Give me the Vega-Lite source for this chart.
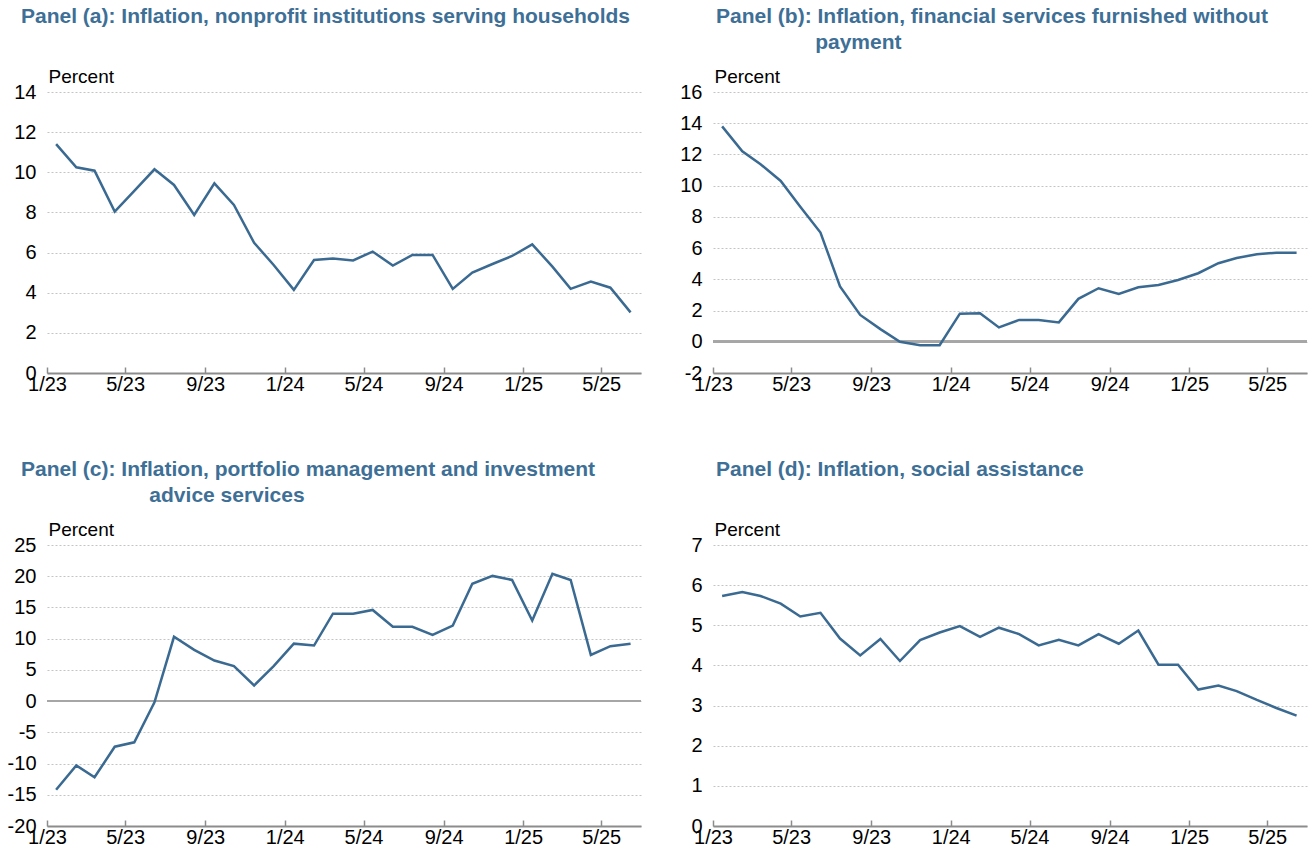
{
  "$schema": "https://vega.github.io/schema/vega-lite/v6.json",
  "background": "white",
  "padding": {"left": 7, "top": 6, "right": 0, "bottom": 0},
  "autosize": {"type": "pad"},
  "bounds": "flush",
  "columns": 2,
  "spacing": {"row": 172, "column": 72},
  "datasets": {
    "a": [
      {"date": "2023-01-15", "value": 11.4}, {"date": "2023-02-15", "value": 10.25}, {"date": "2023-03-15", "value": 10.08},
      {"date": "2023-04-15", "value": 8.04}, {"date": "2023-05-15", "value": 9.07}, {"date": "2023-06-15", "value": 10.15},
      {"date": "2023-07-15", "value": 9.37}, {"date": "2023-08-15", "value": 7.87}, {"date": "2023-09-15", "value": 9.45},
      {"date": "2023-10-15", "value": 8.37}, {"date": "2023-11-15", "value": 6.49}, {"date": "2023-12-15", "value": 5.38},
      {"date": "2024-01-15", "value": 4.14}, {"date": "2024-02-15", "value": 5.63}, {"date": "2024-03-15", "value": 5.7},
      {"date": "2024-04-15", "value": 5.61}, {"date": "2024-05-15", "value": 6.05}, {"date": "2024-06-15", "value": 5.35},
      {"date": "2024-07-15", "value": 5.88}, {"date": "2024-08-15", "value": 5.88}, {"date": "2024-09-15", "value": 4.19},
      {"date": "2024-10-15", "value": 5.0}, {"date": "2024-11-15", "value": 5.43}, {"date": "2024-12-15", "value": 5.83},
      {"date": "2025-01-15", "value": 6.41}, {"date": "2025-02-15", "value": 5.3}, {"date": "2025-03-15", "value": 4.19},
      {"date": "2025-04-15", "value": 4.55}, {"date": "2025-05-15", "value": 4.25}, {"date": "2025-06-15", "value": 3.02}
    ],
    "b": [
      {"date": "2023-01-15", "value": 13.8}, {"date": "2023-02-15", "value": 12.2}, {"date": "2023-03-15", "value": 11.37},
      {"date": "2023-04-15", "value": 10.3}, {"date": "2023-05-15", "value": 8.65}, {"date": "2023-06-15", "value": 7.0},
      {"date": "2023-07-15", "value": 3.55}, {"date": "2023-08-15", "value": 1.72}, {"date": "2023-09-15", "value": 0.81},
      {"date": "2023-10-15", "value": 0.0}, {"date": "2023-11-15", "value": -0.22}, {"date": "2023-12-15", "value": -0.22},
      {"date": "2024-01-15", "value": 1.8}, {"date": "2024-02-15", "value": 1.83}, {"date": "2024-03-15", "value": 0.92},
      {"date": "2024-04-15", "value": 1.4}, {"date": "2024-05-15", "value": 1.4}, {"date": "2024-06-15", "value": 1.24},
      {"date": "2024-07-15", "value": 2.75}, {"date": "2024-08-15", "value": 3.43}, {"date": "2024-09-15", "value": 3.07},
      {"date": "2024-10-15", "value": 3.49}, {"date": "2024-11-15", "value": 3.64}, {"date": "2024-12-15", "value": 3.96},
      {"date": "2025-01-15", "value": 4.39}, {"date": "2025-02-15", "value": 5.03}, {"date": "2025-03-15", "value": 5.37},
      {"date": "2025-04-15", "value": 5.6}, {"date": "2025-05-15", "value": 5.71}, {"date": "2025-06-15", "value": 5.71}
    ],
    "c": [
      {"date": "2023-01-15", "value": -14.2}, {"date": "2023-02-15", "value": -10.3}, {"date": "2023-03-15", "value": -12.2},
      {"date": "2023-04-15", "value": -7.3}, {"date": "2023-05-15", "value": -6.6}, {"date": "2023-06-15", "value": -0.2},
      {"date": "2023-07-15", "value": 10.3}, {"date": "2023-08-15", "value": 8.2}, {"date": "2023-09-15", "value": 6.5},
      {"date": "2023-10-15", "value": 5.6}, {"date": "2023-11-15", "value": 2.5}, {"date": "2023-12-15", "value": 5.6},
      {"date": "2024-01-15", "value": 9.2}, {"date": "2024-02-15", "value": 8.9}, {"date": "2024-03-15", "value": 14.0},
      {"date": "2024-04-15", "value": 14.0}, {"date": "2024-05-15", "value": 14.6}, {"date": "2024-06-15", "value": 11.9},
      {"date": "2024-07-15", "value": 11.9}, {"date": "2024-08-15", "value": 10.6}, {"date": "2024-09-15", "value": 12.1},
      {"date": "2024-10-15", "value": 18.8}, {"date": "2024-11-15", "value": 20.05}, {"date": "2024-12-15", "value": 19.4},
      {"date": "2025-01-15", "value": 12.9}, {"date": "2025-02-15", "value": 20.4}, {"date": "2025-03-15", "value": 19.4},
      {"date": "2025-04-15", "value": 7.4}, {"date": "2025-05-15", "value": 8.8}, {"date": "2025-06-15", "value": 9.2}
    ],
    "d": [
      {"date": "2023-01-15", "value": 5.73}, {"date": "2023-02-15", "value": 5.83}, {"date": "2023-03-15", "value": 5.73},
      {"date": "2023-04-15", "value": 5.54}, {"date": "2023-05-15", "value": 5.22}, {"date": "2023-06-15", "value": 5.31},
      {"date": "2023-07-15", "value": 4.67}, {"date": "2023-08-15", "value": 4.25}, {"date": "2023-09-15", "value": 4.66},
      {"date": "2023-10-15", "value": 4.11}, {"date": "2023-11-15", "value": 4.63}, {"date": "2023-12-15", "value": 4.82},
      {"date": "2024-01-15", "value": 4.98}, {"date": "2024-02-15", "value": 4.71}, {"date": "2024-03-15", "value": 4.94},
      {"date": "2024-04-15", "value": 4.78}, {"date": "2024-05-15", "value": 4.5}, {"date": "2024-06-15", "value": 4.64},
      {"date": "2024-07-15", "value": 4.5}, {"date": "2024-08-15", "value": 4.78}, {"date": "2024-09-15", "value": 4.54},
      {"date": "2024-10-15", "value": 4.87}, {"date": "2024-11-15", "value": 4.02}, {"date": "2024-12-15", "value": 4.02},
      {"date": "2025-01-15", "value": 3.4}, {"date": "2025-02-15", "value": 3.5}, {"date": "2025-03-15", "value": 3.36},
      {"date": "2025-04-15", "value": 3.14}, {"date": "2025-05-15", "value": 2.94}, {"date": "2025-06-15", "value": 2.75}
    ]
  },
  "concat": [
    {
      "width": 594, "height": 281,
      "title": {"text": "Panel (a): Inflation, nonprofit institutions serving households", "dx": -26, "offset": 40},
      "data": {"name": "a"},
      "mark": {"type": "line", "color": "#3a6a91", "strokeWidth": 2.5},
      "encoding": {
        "x": {"field": "date", "type": "temporal",
          "scale": {"type": "utc", "domain": [{"year": 2023, "month": 1, "date": 1, "utc": true}, {"year": 2025, "month": 7, "date": 1, "utc": true}]},
          "axis": {"title": null, "format": "%-m/%y", "values": [
            {"year": 2023, "month": 1, "date": 1, "utc": true}, {"year": 2023, "month": 5, "date": 1, "utc": true},
            {"year": 2023, "month": 9, "date": 1, "utc": true}, {"year": 2024, "month": 1, "date": 1, "utc": true},
            {"year": 2024, "month": 5, "date": 1, "utc": true}, {"year": 2024, "month": 9, "date": 1, "utc": true},
            {"year": 2025, "month": 1, "date": 1, "utc": true}, {"year": 2025, "month": 5, "date": 1, "utc": true}]}},
        "y": {"field": "value", "type": "quantitative", "scale": {"domain": [0, 14], "nice": false},
          "axis": {"title": "Percent", "values": [0, 2, 4, 6, 8, 10, 12, 14]}}
      }
    },
    {
      "width": 594, "height": 281,
      "title": {"text": ["Panel (b): Inflation, financial services furnished without", "\u200b\u00a0\u00a0\u00a0\u00a0\u00a0\u00a0\u00a0\u00a0\u00a0\u00a0\u00a0\u00a0\u00a0\u00a0\u00a0\u00a0\u00a0payment"], "dx": 3, "offset": 14},
      "data": {"name": "b"},
      "encoding": {
        "x": {"field": "date", "type": "temporal",
          "scale": {"type": "utc", "domain": [{"year": 2023, "month": 1, "date": 1, "utc": true}, {"year": 2025, "month": 7, "date": 1, "utc": true}]},
          "axis": {"title": null, "format": "%-m/%y", "values": [
            {"year": 2023, "month": 1, "date": 1, "utc": true}, {"year": 2023, "month": 5, "date": 1, "utc": true},
            {"year": 2023, "month": 9, "date": 1, "utc": true}, {"year": 2024, "month": 1, "date": 1, "utc": true},
            {"year": 2024, "month": 5, "date": 1, "utc": true}, {"year": 2024, "month": 9, "date": 1, "utc": true},
            {"year": 2025, "month": 1, "date": 1, "utc": true}, {"year": 2025, "month": 5, "date": 1, "utc": true}]}},
        "y": {"field": "value", "type": "quantitative", "scale": {"domain": [-2, 16], "nice": false},
          "axis": {"title": "Percent", "values": [-2, 0, 2, 4, 6, 8, 10, 12, 14, 16]}}
      },
      "layer": [
        {"mark": {"type": "rule", "color": "#a6a6a6", "strokeWidth": 2}, "encoding": {"y": {"datum": 0}, "x": {}}},
        {"mark": {"type": "line", "color": "#3a6a91", "strokeWidth": 2.5}}
      ]
    },
    {
      "width": 594, "height": 281,
      "title": {"text": ["Panel (c): Inflation, portfolio management and investment", "\u200b\u00a0\u00a0\u00a0\u00a0\u00a0\u00a0\u00a0\u00a0\u00a0\u00a0\u00a0\u00a0\u00a0\u00a0\u00a0\u00a0\u00a0\u00a0\u00a0\u00a0\u00a0\u00a0advice services"], "dx": -26, "offset": 14},
      "data": {"name": "c"},
      "encoding": {
        "x": {"field": "date", "type": "temporal",
          "scale": {"type": "utc", "domain": [{"year": 2023, "month": 1, "date": 1, "utc": true}, {"year": 2025, "month": 7, "date": 1, "utc": true}]},
          "axis": {"title": null, "format": "%-m/%y", "values": [
            {"year": 2023, "month": 1, "date": 1, "utc": true}, {"year": 2023, "month": 5, "date": 1, "utc": true},
            {"year": 2023, "month": 9, "date": 1, "utc": true}, {"year": 2024, "month": 1, "date": 1, "utc": true},
            {"year": 2024, "month": 5, "date": 1, "utc": true}, {"year": 2024, "month": 9, "date": 1, "utc": true},
            {"year": 2025, "month": 1, "date": 1, "utc": true}, {"year": 2025, "month": 5, "date": 1, "utc": true}]}},
        "y": {"field": "value", "type": "quantitative", "scale": {"domain": [-20, 25], "nice": false},
          "axis": {"title": "Percent", "values": [-20, -15, -10, -5, 0, 5, 10, 15, 20, 25]}}
      },
      "layer": [
        {"mark": {"type": "rule", "color": "#a6a6a6", "strokeWidth": 2}, "encoding": {"y": {"datum": 0}, "x": {}}},
        {"mark": {"type": "line", "color": "#3a6a91", "strokeWidth": 2.5}}
      ]
    },
    {
      "width": 594, "height": 281,
      "title": {"text": "Panel (d): Inflation, social assistance", "dx": 3, "offset": 40},
      "data": {"name": "d"},
      "mark": {"type": "line", "color": "#3a6a91", "strokeWidth": 2.5},
      "encoding": {
        "x": {"field": "date", "type": "temporal",
          "scale": {"type": "utc", "domain": [{"year": 2023, "month": 1, "date": 1, "utc": true}, {"year": 2025, "month": 7, "date": 1, "utc": true}]},
          "axis": {"title": null, "format": "%-m/%y", "values": [
            {"year": 2023, "month": 1, "date": 1, "utc": true}, {"year": 2023, "month": 5, "date": 1, "utc": true},
            {"year": 2023, "month": 9, "date": 1, "utc": true}, {"year": 2024, "month": 1, "date": 1, "utc": true},
            {"year": 2024, "month": 5, "date": 1, "utc": true}, {"year": 2024, "month": 9, "date": 1, "utc": true},
            {"year": 2025, "month": 1, "date": 1, "utc": true}, {"year": 2025, "month": 5, "date": 1, "utc": true}]}},
        "y": {"field": "value", "type": "quantitative", "scale": {"domain": [0, 7], "nice": false},
          "axis": {"title": "Percent", "values": [0, 1, 2, 3, 4, 5, 6, 7]}}
      }
    }
  ],
  "config": {
    "font": "Liberation Sans",
    "view": {"stroke": null},
    "title": {"anchor": "start", "frame": "group", "fontSize": 21, "fontWeight": "bold", "color": "#3e6f96", "lineHeight": 26},
    "axisX": {"domainColor": "#8c8c8c", "domainWidth": 2, "tickColor": "#8c8c8c", "tickWidth": 1.5, "tickSize": -6,
      "labelPadding": 7, "labelFontSize": 20, "labelColor": "#000000", "grid": false, "labelOverlap": false, "labelFlush": false},
    "axisY": {"domain": false, "ticks": false, "grid": true, "gridColor": "#c4c4c4", "gridDash": [2, 2], "gridWidth": 1,
      "labelFontSize": 20, "labelPadding": 11, "labelColor": "#000000",
      "labelExpr": "replace(datum.label, '\u2212', '-')",
      "titleAngle": 0, "titleAlign": "left", "titleBaseline": "alphabetic", "titleX": 1, "titleY": -10,
      "titleFontSize": 19, "titleFontWeight": "normal", "titleColor": "#000000"}
  }
}
